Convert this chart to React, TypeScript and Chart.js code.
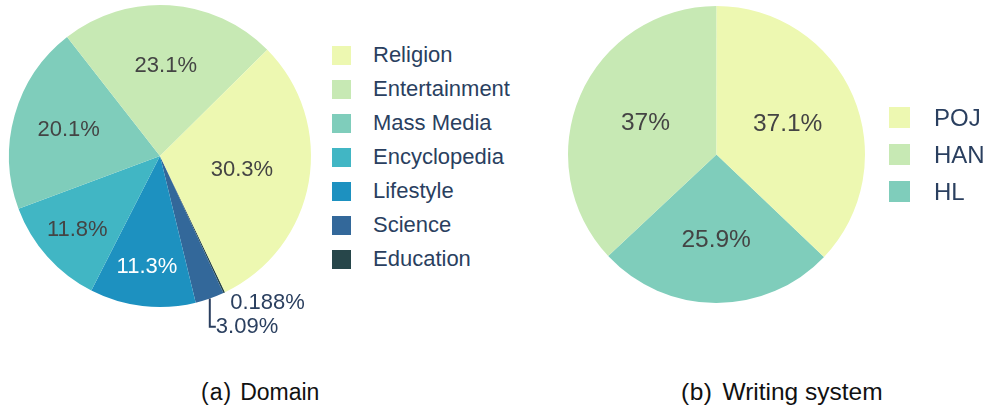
import React, { useEffect, useRef } from 'react';
import { Chart, registerables } from 'chart.js';

Chart.register(...registerables);

// ---------- data ----------
const domainLabels = ['Religion', 'Entertainment', 'Mass Media', 'Encyclopedia', 'Lifestyle', 'Science', 'Education'];
const domainValues = [30.3, 23.1, 20.1, 11.8, 11.3, 3.09, 0.188];
const domainColors = ['#edf8b1', '#c7e9b4', '#7fcdbb', '#41b6c4', '#1d91c0', '#33689a', '#27464a'];

const writingLabels = ['POJ', 'HAN', 'HL'];
const writingValues = [37.1, 37, 25.9];
const writingColors = ['#edf8b1', '#c7e9b4', '#7fcdbb'];

const captionA = ['(a)', 'Domain'];
const captionB = ['(b)', 'Writing system'];

// ---------- styles ----------
const FONT = '"Liberation Sans", Arial, Helvetica, sans-serif';
const INSIDE_DARK = '#444444';
const OUTSIDE_COLOR = '#2a3f5f';

function fmtPct(p: number): string {
  let s = p.toPrecision(3);
  if (s.indexOf('.') >= 0) s = s.replace(/0+$/, '').replace(/\.$/, '');
  return s + '%';
}

function brightness(hex: string): number {
  const h = hex.replace('#', '');
  const r = parseInt(h.slice(0, 2), 16);
  const g = parseInt(h.slice(2, 4), 16);
  const b = parseInt(h.slice(4, 6), 16);
  return (r * 299 + g * 587 + b * 114) / 1000;
}

const pieLabelPlugin = {
  id: 'pieLabels',
  afterDatasetsDraw(chart: any, _args: any, opts: any) {
    const ctx = chart.ctx as CanvasRenderingContext2D;
    const meta = chart.getDatasetMeta(0);
    const ds = chart.data.datasets[0];
    const vals = ds.data as number[];
    const total = vals.reduce((a, b) => a + b, 0);
    const fontSize = opts.fontSize || 22;
    const lineH = fontSize * 1.1;
    ctx.save();
    ctx.font = `${fontSize}px ${FONT}`;
    ctx.textAlign = 'center';
    ctx.textBaseline = 'middle';
    const outside: any[] = [];
    meta.data.forEach((arc: any, i: number) => {
      const p = arc.getProps(['x', 'y', 'startAngle', 'endAngle', 'outerRadius'], true);
      const text = fmtPct((vals[i] / total) * 100);
      const w = ctx.measureText(text).width;
      const half = (p.endAngle - p.startAngle) / 2;
      const mid = p.startAngle + half;
      const rIns = Math.min(1 / (1 + 1 / Math.sin(half)), 0.5);
      const diam = Math.sqrt(w * w + lineH * lineH);
      const scale = (rIns * p.outerRadius * 2) / diam;
      if (scale >= 1) {
        const rc = (1 - rIns) * p.outerRadius;
        const bg = (ds.backgroundColor as string[])[i];
        ctx.fillStyle = brightness(bg) < 128 ? '#ffffff' : INSIDE_DARK;
        ctx.fillText(text, p.x + rc * Math.cos(mid), p.y + rc * Math.sin(mid));
      } else {
        const px = p.outerRadius * Math.cos(mid);
        const py = p.outerRadius * Math.sin(mid);
        let dx = w / 2;
        let dy = lineH / 2;
        if (px < 0) dx = -dx;
        if (py < 0) dy = -dy;
        const ox = dx + (Math.abs(dy) * (dx > 0 ? 1 : -1)) / 2;
        const oy = dy / (1 + (px * px) / (py * py));
        outside.push({
          text, w, px, py, cx: p.x, cy: p.y,
          x: p.x + px + ox, y: p.y + py + oy, extra: 0,
        });
      }
    });
    // scoot overlapping outside labels away from the equator
    const groups: Record<string, any[]> = {};
    outside.forEach((o) => {
      const k = (o.py >= 0 ? 'b' : 't') + (o.px >= 0 ? 'r' : 'l');
      (groups[k] = groups[k] || []).push(o);
    });
    Object.keys(groups).forEach((k) => {
      const g = groups[k].sort((a, b) => Math.abs(a.py) - Math.abs(b.py));
      const down = k[0] === 'b';
      for (let j = 1; j < g.length; j++) {
        const prev = g[j - 1];
        const cur = g[j];
        const hOverlap = Math.abs(prev.x - cur.x) < (prev.w + cur.w) / 2;
        if (!hOverlap) continue;
        if (down) {
          const prevBottom = prev.y + lineH / 2;
          const curTop = cur.y - lineH / 2;
          if (curTop < prevBottom) { cur.extra = prevBottom - curTop; cur.y += cur.extra; }
        } else {
          const prevTop = prev.y - lineH / 2;
          const curBottom = cur.y + lineH / 2;
          if (curBottom > prevTop) { cur.extra = prevTop - curBottom; cur.y += cur.extra; }
        }
      }
    });
    outside.forEach((o) => {
      if (o.extra) {
        const sx = o.cx + o.px;
        const sy = o.cy + o.py;
        ctx.strokeStyle = OUTSIDE_COLOR;
        ctx.lineWidth = 2;
        ctx.beginPath();
        ctx.moveTo(sx, sy);
        ctx.lineTo(sx, o.y);
        ctx.lineTo(sx + (lineH / 4) * (o.px < 0 ? -1 : 1), o.y);
        ctx.stroke();
      }
      ctx.fillStyle = OUTSIDE_COLOR;
      ctx.fillText(o.text, o.x, o.y);
    });
    ctx.restore();
  },
};

type PieProps = {
  labels: string[];
  values: number[];
  colors: string[];
  rotation: number;
  fontSize: number;
  box: { left: number; top: number; width: number; height: number };
  padding: { left: number; top: number; right: number; bottom: number };
};

function PieChart({ labels, values, colors, rotation, fontSize, box, padding }: PieProps) {
  const ref = useRef<HTMLCanvasElement | null>(null);
  useEffect(() => {
    if (!ref.current) return;
    // drawn counter-clockwise in legend order => reverse for Chart.js (clockwise)
    const chart = new Chart(ref.current, {
      type: 'pie',
      data: {
        labels: [...labels].reverse(),
        datasets: [
          {
            data: [...values].reverse(),
            backgroundColor: [...colors].reverse(),
            borderWidth: 0,
            hoverBorderWidth: 0,
            hoverOffset: 0,
          } as any,
        ],
      },
      options: {
        animation: false,
        responsive: false,
        events: [],
        rotation,
        layout: { padding },
        plugins: {
          legend: { display: false },
          tooltip: { enabled: false },
          pieLabels: { fontSize },
        } as any,
      },
      plugins: [pieLabelPlugin as any],
    });
    return () => chart.destroy();
  }, []);
  return (
    <canvas
      ref={ref}
      width={box.width}
      height={box.height}
      style={{ position: 'absolute', left: box.left, top: box.top, width: box.width, height: box.height }}
    />
  );
}

type LegendProps = {
  labels: string[];
  colors: string[];
  left: number;
  top: number;
  rowHeight: number;
  boxSize: number;
  gap: number;
  fontSize: number;
};

function Legend({ labels, colors, left, top, rowHeight, boxSize, gap, fontSize }: LegendProps) {
  return (
    <div style={{ position: 'absolute', left, top }}>
      {labels.map((l, i) => (
        <div key={l} style={{ display: 'flex', alignItems: 'center', height: rowHeight }}>
          <div style={{ width: boxSize, height: boxSize, background: colors[i], flex: '0 0 auto' }} />
          <span
            style={{
              marginLeft: gap,
              fontFamily: FONT,
              fontSize,
              color: OUTSIDE_COLOR,
              whiteSpace: 'nowrap',
              lineHeight: 'normal',
            }}
          >
            {l}
          </span>
        </div>
      ))}
    </div>
  );
}

function Caption({ parts, left, top, fontSize, ls, gap }: { parts: string[]; left: number; top: number; fontSize: number; ls: number; gap: number }) {
  return (
    <div
      style={{
        position: 'absolute',
        left,
        top,
        fontFamily: FONT,
        fontSize,
        lineHeight: `${fontSize}px`,
        color: '#111',
        whiteSpace: 'nowrap',
      }}
    >
      <span style={{ letterSpacing: ls }}>{parts[0]}</span>
      <span style={{ marginLeft: gap }}>{parts[1]}</span>
    </div>
  );
}

export default function App() {
  useEffect(() => {
    document.body.style.margin = '0';
  }, []);
  return (
    <div style={{ position: 'absolute', left: 0, top: 0, width: 988, height: 408, background: '#ffffff', overflow: 'hidden' }}>
      <PieChart
        labels={domainLabels}
        values={domainValues}
        colors={domainColors}
        rotation={154.5}
        fontSize={22}
        box={{ left: 0, top: 0, width: 330, height: 345 }}
        padding={{ left: 9, top: 5, right: 19, bottom: 38 }}
      />
      <Legend
        labels={domainLabels}
        colors={domainColors}
        left={332}
        top={38}
        rowHeight={34}
        boxSize={19}
        gap={22}
        fontSize={22}
      />
      <PieChart
        labels={writingLabels}
        values={writingValues}
        colors={writingColors}
        rotation={133.6}
        fontSize={24.5}
        box={{ left: 560, top: 0, width: 330, height: 345 }}
        padding={{ left: 8, top: 6, right: 25, bottom: 42 }}
      />
      <Legend
        labels={writingLabels}
        colors={writingColors}
        left={889}
        top={99}
        rowHeight={37}
        boxSize={21}
        gap={24}
        fontSize={24}
      />
      <Caption parts={captionA} left={201} top={381} fontSize={23} ls={1} gap={8} />
      <Caption parts={captionB} left={681} top={380} fontSize={24.5} ls={0.5} gap={10} />
    </div>
  );
}
